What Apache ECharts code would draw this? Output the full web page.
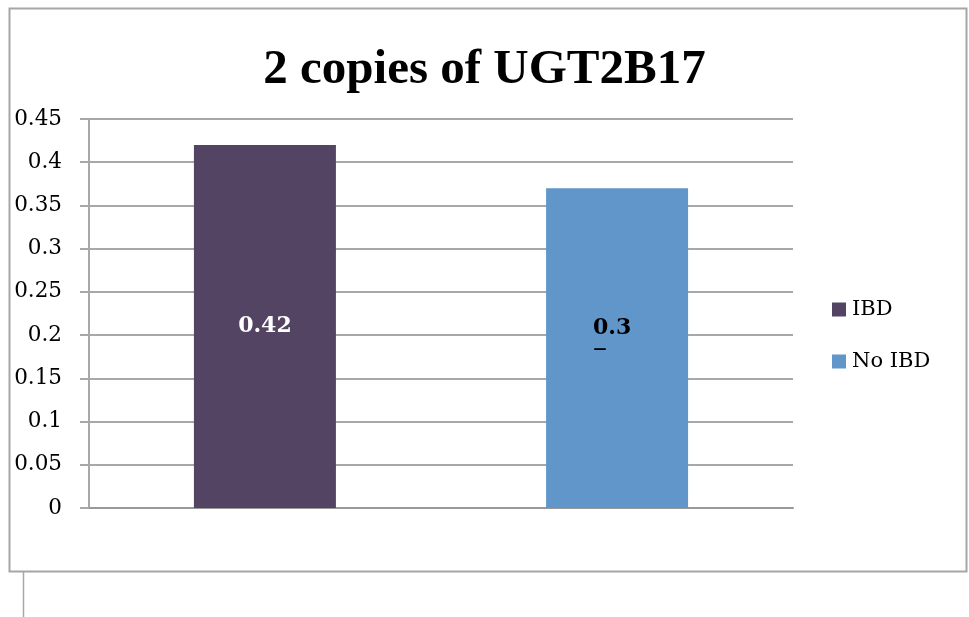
<!DOCTYPE html>
<html>
<head>
<meta charset="utf-8">
<script src="https://cdn.jsdelivr.net/npm/echarts@6/dist/echarts.min.js"></script>
<style>html,body{margin:0;padding:0;background:#fff;}#c{width:969px;height:617px;}</style>
</head>
<body>
<div id="c"></div>
<script>
const titleText = '2 copies of UGT2B17';
const categories = [''];
const seriesNames = ['IBD', 'No IBD'];
const ibdValues = [0.42];
const noIbdValues = [0.37];
const dataLabels = ['0.42', '0.3\n–'];
const yMin = 0, yMax = 0.45, yStep = 0.05;

const chart = echarts.init(document.getElementById('c'));
const serif = 'DejaVu Serif';
function richLabel(txt) {
  const parts = txt.split('\n');
  return parts.map((p, i) => (i === 0 ? '{v|' + p + '}' : '{d|' + p + '}')).join('\n');
}
chart.setOption({
  animation: false,
  backgroundColor: '#fff',
  title: {
    text: titleText,
    left: 'center',
    top: 46,
    padding: 0,
    textStyle: { fontFamily: 'Liberation Serif', fontWeight: 'bold', fontSize: 49, color: '#000' }
  },
  legend: {
    orient: 'vertical',
    left: 827,
    top: 294,
    itemWidth: 14,
    itemHeight: 14,
    itemGap: 31,
    icon: 'rect',
    textStyle: { fontFamily: serif, fontSize: 21, color: '#000', padding: [0, 0, 0, 1] },
    data: seriesNames
  },
  grid: { left: 89, right: 176, top: 119, bottom: 109, containLabel: false },
  xAxis: {
    type: 'category',
    data: categories,
    axisLine: { show: true, lineStyle: { color: '#999', width: 2 } },
    axisTick: { show: false },
    axisLabel: { show: false },
    splitLine: { show: false }
  },
  yAxis: {
    type: 'value',
    min: yMin, max: yMax, interval: yStep,
    axisLine: { show: true, lineStyle: { color: '#a8a8a8', width: 2 } },
    axisTick: { show: true, inside: false, length: 9, lineStyle: { color: '#a8a8a8', width: 2 } },
    axisLabel: { margin: 27, fontFamily: serif, fontSize: 21.5, color: '#000', padding: [4, 0, 0, 0] },
    splitLine: { show: true, lineStyle: { color: '#a8a8a8', width: 2 } }
  },
  series: [
    {
      name: seriesNames[0], type: 'bar', data: ibdValues,
      barWidth: 142, barGap: '148%',
      itemStyle: { color: '#524462' },
      label: {
        show: true, position: 'inside',
        formatter: () => dataLabels[0],
        fontFamily: serif, fontWeight: 'bold', fontSize: 22, color: '#fff'
      }
    },
    {
      name: seriesNames[1], type: 'bar', data: noIbdValues,
      barWidth: 142,
      itemStyle: { color: '#6096CA' },
      label: {
        show: true, position: 'inside', offset: [-5, -9],
        formatter: () => richLabel(dataLabels[1]),
        rich: {
          v: { fontFamily: serif, fontWeight: 'bold', fontSize: 22, color: '#000', lineHeight: 22 },
          d: { fontFamily: serif, fontWeight: 'normal', fontSize: 28, color: '#000', lineHeight: 22, align: 'left' }
        }
      }
    }
  ],
  graphic: [
    { type: 'rect', shape: { x: 9.5, y: 8.5, width: 957, height: 563 }, style: { fill: 'none', stroke: '#a6a6a6', lineWidth: 2 }, silent: true },
    { type: 'line', shape: { x1: 23.5, y1: 572, x2: 23.5, y2: 617 }, style: { stroke: '#a6a6a6', lineWidth: 1.5 }, silent: true }
  ]
});
</script>
</body>
</html>
